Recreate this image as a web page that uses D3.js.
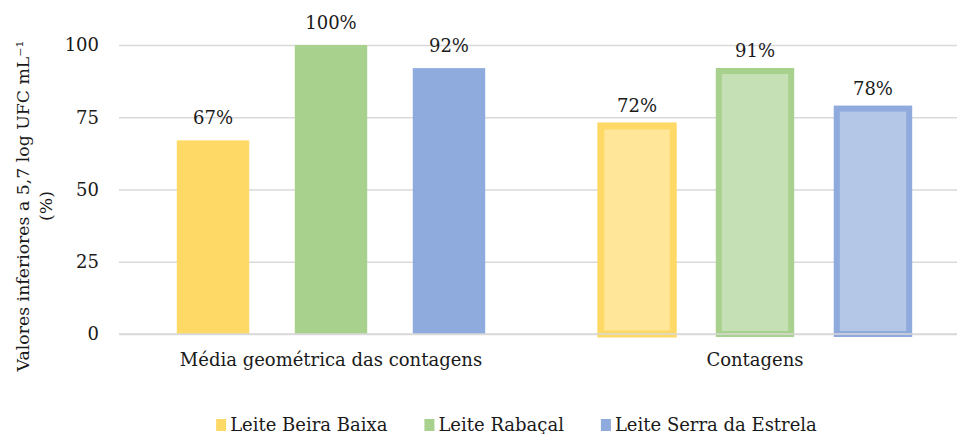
<!DOCTYPE html>
<html><head><meta charset="utf-8">
<script src="https://cdn.jsdelivr.net/npm/d3@7"></script>
<style>
html,body{margin:0;padding:0;background:#fff;}
svg{display:block;font-family:"DejaVu Serif",Georgia,serif;}
</style></head>
<body><svg id="c" width="957" height="434"></svg>
<script>
const categories = ["Média geométrica das contagens", "Contagens"];
const seriesNames = ["Leite Beira Baixa", "Leite Rabaçal", "Leite Serra da Estrela"];
const beiraBaixa = [67, 72];
const rabacal = [100, 91];
const serraEstrela = [92, 78];
const yTicks = [0, 25, 50, 75, 100];
const yTitle = ["Valores inferiores a 5,7 log UFC mL⁻¹", "(%)"];

(function () {
const seriesValues = [beiraBaixa, rabacal, serraEstrela];
const solidColors = ["#FFD966", "#A9D18E", "#8FAADC"];
const lightColors = ["#FFE699", "#C5E0B4", "#B4C7E7"];
const textColor = "#1a1a1a";
const fs = 18;

const svg = d3.select("#c");
const mLeft = 119, mRight = 967, mTop = 45, mBottom = 334;

const x0 = d3.scaleBand().domain(categories).range([mLeft, mRight]).padding(0);
const x1 = d3.scaleBand().domain(d3.range(seriesNames.length)).range([0, x0.bandwidth()])
  .paddingInner(0.386).paddingOuter(0.49);
const y = d3.scaleLinear().domain([0, 100]).range([mBottom, mTop]);

const yAxis = d3.axisLeft(y).tickValues(yTicks).tickSize(-(mRight - mLeft)).tickPadding(20).tickFormat(d3.format("d"));
const gAxis = svg.append("g").attr("transform", `translate(${mLeft},0)`).call(yAxis);
gAxis.select(".domain").remove();
gAxis.selectAll(".tick line").attr("stroke", "#d9d9d9").attr("stroke-width", 1.6);
gAxis.selectAll(".tick text").attr("fill", textColor).attr("font-size", fs)
  .attr("font-family", '"DejaVu Serif",Georgia,serif').attr("x", 99 - mLeft);

const groups = svg.append("g").selectAll("g").data(categories).join("g")
  .attr("transform", d => `translate(${x0(d)},0)`);

groups.each(function(cat, ci) {
  const g = d3.select(this);
  seriesValues.forEach((vals, si) => {
    const v = vals[ci];
    const bx = x1(si), bw = x1.bandwidth();
    if (ci === 0) {
      g.append("rect").attr("x", bx).attr("y", y(v)).attr("width", bw)
        .attr("height", y(0) - y(v)).attr("fill", solidColors[si]);
    } else {
      g.append("rect").attr("x", bx).attr("y", y(v)).attr("width", bw)
        .attr("height", y(0) - y(v)).attr("fill", lightColors[si])
        .attr("stroke", solidColors[si]).attr("stroke-width", si === 0 ? 7 : 6);
    }
    g.append("text").attr("x", bx + bw / 2).attr("y", y(v) - (ci === 0 ? 16 : 14))
      .attr("text-anchor", "middle").attr("font-size", fs).attr("fill", textColor)
      .text(v + "%");
  });
});

svg.append("line").attr("x1", mLeft).attr("x2", mRight).attr("y1", y(0)).attr("y2", y(0))
  .attr("stroke", "#d9d9d9").attr("stroke-width", 1.6);

svg.append("g").selectAll("text").data(categories).join("text")
  .attr("x", d => x0(d) + x0.bandwidth() / 2).attr("y", 366)
  .attr("text-anchor", "middle").attr("font-size", fs).attr("fill", textColor)
  .text(d => d);

const yt = svg.append("text").attr("transform", "translate(0,206) rotate(-90)")
  .attr("text-anchor", "middle").attr("font-size", 17.3).attr("fill", textColor);
yt.append("tspan").attr("x", 0).attr("y", 29).text(yTitle[0]);
yt.append("tspan").attr("x", 0).attr("y", 52).text(yTitle[1]);

const lg = svg.append("g");
let cx = 0;
seriesNames.forEach((name, i) => {
  const it = lg.append("g");
  it.append("rect").attr("x", 0).attr("y", -12).attr("width", 10).attr("height", 12).attr("fill", solidColors[i]);
  const t = it.append("text").attr("x", 14).attr("y", 0).attr("font-size", fs).attr("fill", textColor).text(name);
  const w = 14 + t.node().getComputedTextLength();
  it.attr("transform", `translate(${cx},0)`);
  cx += w + 37;
});
const total = cx - 37;
lg.attr("transform", `translate(${516.5 - total / 2},431)`);
})();
</script></body></html>
